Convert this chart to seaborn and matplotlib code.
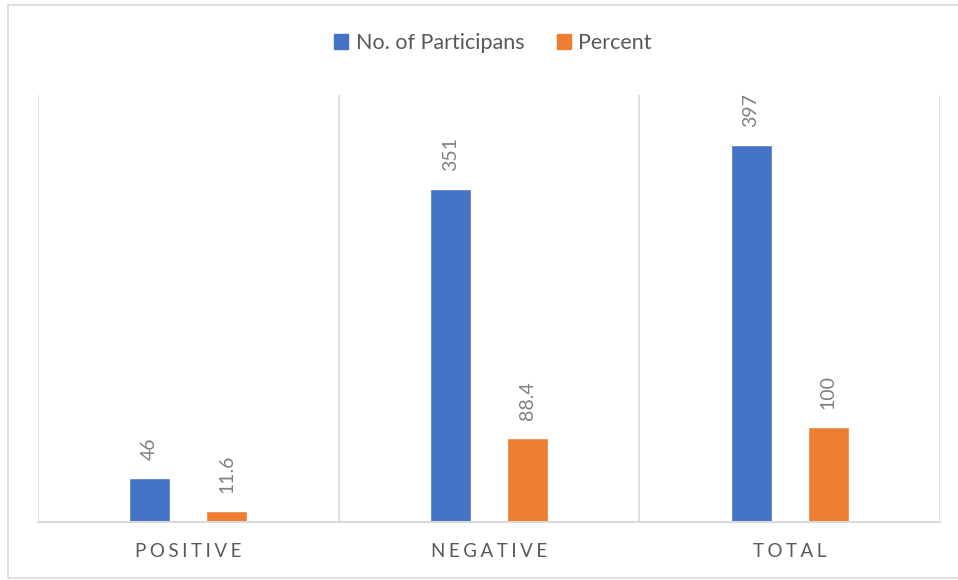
import matplotlib
matplotlib.use("Agg")
import matplotlib.pyplot as plt
import seaborn as sns
import pandas as pd
from matplotlib.lines import Line2D

categories = ["POSITIVE", "NEGATIVE", "TOTAL"]
series_names = ["No. of Participans", "Percent"]
participants = [46, 351, 397]
percent = [11.6, 88.4, 100]
percent_labels = ["11.6", "88.4", "100"]
participant_labels = ["46", "351", "397"]

colors = ["#4472C4", "#ED7D31"]

df = pd.DataFrame({
    "category": categories * 2,
    "series": [series_names[0]] * 3 + [series_names[1]] * 3,
    "value": participants + percent,
})

sns.set_theme(style="white")
plt.rcParams["font.family"] = ["Lato", "DejaVu Sans"]

fig = plt.figure(figsize=(9.58, 5.8), dpi=100)
W, H = 958, 580
ax = fig.add_axes([38 / W, 1 - 522 / H, (940 - 38) / W, (522 - 95) / H])

sns.barplot(data=df, x="category", y="value", hue="series", order=categories,
            hue_order=series_names, palette=colors, width=0.513, gap=0.466,
            saturation=1, ax=ax, legend=True)

leg = ax.get_legend()
if leg is not None:
    leg.remove()

ax.set_xlim(-0.5, 2.5)
ax.set_ylim(0, 450)
ax.set_xlabel("")
ax.set_ylabel("")
ax.set_yticks([])

for s in ["top", "left", "right"]:
    ax.spines[s].set_visible(False)
ax.spines["bottom"].set_color("#d9d9d9")
ax.spines["bottom"].set_linewidth(1.5)

for xv in [-0.5, 0.5, 1.5, 2.5]:
    ax.axvline(xv, color="#d9d9d9", lw=1.2, zorder=0)

spaced = ["\u2009\u200a".join(list(c)) for c in categories]
ax.set_xticks(range(len(categories)))
ax.set_xticklabels(spaced, fontsize=13.5, color="#595959")
ax.tick_params(axis="x", length=0, pad=15)

label_sets = [participant_labels, percent_labels]
for cont, labs in zip(ax.containers, label_sets):
    ax.bar_label(cont, labels=labs, rotation=90, padding=13, fontsize=14,
                 color="#808080")

handles = [plt.Rectangle((0, 0), 1, 1, color=c) for c in colors]
fig.legend(handles, series_names, loc="center", bbox_to_anchor=(493 / W, 1 - 43 / H),
           ncol=2, frameon=False, fontsize=15.5, labelcolor="#595959",
           handlelength=0.65, handleheight=0.65, handletextpad=0.35, columnspacing=1.5)

# outer frame (document border)
fig.add_artist(Line2D([8 / W, 8 / W], [1 - 5 / H, 1 - 578 / H], color="#d9d9d9", lw=1.2))
fig.add_artist(Line2D([8 / W, 1.0], [1 - 5 / H, 1 - 5 / H], color="#d9d9d9", lw=1.2))
fig.add_artist(Line2D([8 / W, 1.0], [1 - 578 / H, 1 - 578 / H], color="#d9d9d9", lw=1.2))

fig.savefig("out.png", dpi=100)
